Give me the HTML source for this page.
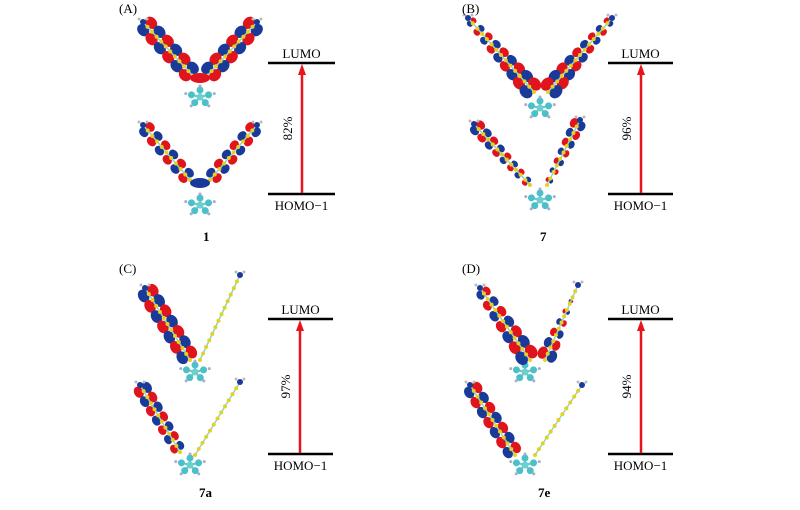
<!DOCTYPE html>
<html><head><meta charset="utf-8"><style>
html,body{margin:0;padding:0;background:#fff;}
svg{display:block;}
text{font-family:"Liberation Serif","Times New Roman",serif;fill:#000;}
</style></head><body>
<svg id="s" width="800" height="510" viewBox="0 0 800 510" xmlns="http://www.w3.org/2000/svg">
<g id="mol"></g>
<g font-size="13">
<text x="119" y="13">(A)</text>
<text x="462" y="13">(B)</text>
<text x="119" y="273">(C)</text>
<text x="462" y="273">(D)</text>
<text x="203" y="241" font-weight="bold">1</text>
<text x="540" y="241" font-weight="bold">7</text>
<text x="199" y="497" font-weight="bold">7a</text>
<text x="538" y="497" font-weight="bold">7e</text>
</g>
<g id="lev"></g>
</svg>
<script>
var NS="http://www.w3.org/2000/svg";
function el(p,t,a){var e=document.createElementNS(NS,t);for(var k in a)e.setAttribute(k,a[k]);p.appendChild(e);return e;}
var M=document.getElementById('mol'),L=document.getElementById('lev');
function level(x1,x2,yl,yh,ax,pct){
 el(L,'line',{x1:x1,x2:x2,y1:yl,y2:yl,stroke:'#000','stroke-width':2.5});
 el(L,'line',{x1:x1,x2:x2,y1:yh,y2:yh,stroke:'#000','stroke-width':2.5});
 el(L,'line',{x1:ax,x2:ax,y1:yh-1,y2:yl+9,stroke:'#e8141c','stroke-width':2.5});
 el(L,'polygon',{points:(ax-4)+','+(yl+12)+' '+ax+','+(yl+1)+' '+(ax+4)+','+(yl+12),fill:'#e8141c'});
 var t=el(L,'text',{x:(x1+x2)/2,y:yl-5,'font-size':13,'text-anchor':'middle'});t.textContent='LUMO';
 t=el(L,'text',{x:(x1+x2)/2,y:yh+16,'font-size':13,'text-anchor':'middle'});t.textContent='HOMO\u22121';
 var cy=(yl+yh)/2;
 t=el(L,'text',{x:ax-10,y:cy,'font-size':13,'text-anchor':'middle',transform:'rotate(-90 '+(ax-10)+' '+cy+')'});t.textContent=pct;
}
level(268,335,63,194,302,'82%');
level(608,673,63,194,641,'96%');
level(268,333,319,454,300,'97%');
level(608,673,319,454,641,'94%');
function arm(x1,y1,x2,y2,n,s,ph){
 var dx=x2-x1,dy=y2-y1,len=Math.hypot(dx,dy),ux=dx/len,uy=dy/len,px=-uy,py=ux,ang=Math.atan2(dy,dx)*180/Math.PI;
 for(var i=0;i<n;i++){
  var t=(i+0.5)/n,x=x1+dx*t,y=y1+dy*t,sz=(typeof s=='function')?s(t):s;
  if(sz>0.5){
   var c1=(i+ph)%2?'#e0141c':'#1a3a9a',c2=(i+ph)%2?'#1a3a9a':'#e0141c';
   el(M,'ellipse',{cx:x+px*sz*0.6,cy:y+py*sz*0.6,rx:sz*0.75,ry:sz*0.6,fill:c1,transform:'rotate('+ang+' '+(x+px*sz*0.6)+' '+(y+py*sz*0.6)+')'});
   el(M,'ellipse',{cx:x-px*sz*0.6,cy:y-py*sz*0.6,rx:sz*0.75,ry:sz*0.6,fill:c2,transform:'rotate('+ang+' '+(x-px*sz*0.6)+' '+(y-py*sz*0.6)+')'});
  }
 }
 el(M,'line',{x1:x1,y1:y1,x2:x2,y2:y2,stroke:'#7fd8d8','stroke-width':1.5});
 var m=Math.round(len/7);
 for(var j=0;j<=m;j++){var q=j/m;el(M,'circle',{cx:x1+dx*q,cy:y1+dy*q,r:2,fill:'#e8d020'});}
 el(M,'circle',{cx:x1,cy:y1,r:3,fill:'#1a3a9a'});
 el(M,'circle',{cx:x1-4,cy:y1-3,r:1.5,fill:'#bbb'});el(M,'circle',{cx:x1+4,cy:y1-3,r:1.5,fill:'#bbb'});
}
function ring(x,y){
 for(var k=0;k<5;k++){var a=k*1.2566-1.57;
  el(M,'line',{x1:x,y1:y,x2:x+Math.cos(a)*9,y2:y+Math.sin(a)*7,stroke:'#5cc8c8','stroke-width':2});
  el(M,'circle',{cx:x+Math.cos(a)*9,cy:y+Math.sin(a)*7,r:3.5,fill:'#4cc0c8'});
  el(M,'circle',{cx:x+Math.cos(a)*15,cy:y+Math.sin(a)*11,r:1.5,fill:'#aac'});}
 el(M,'circle',{cx:x,cy:y,r:3.5,fill:'#6cd0d0'});
}
// A
ring(200,97);
arm(143,22,193,76,6,9,0);arm(257,22,207,76,6,9,1);
el(M,'ellipse',{cx:200,cy:78,rx:10,ry:5,fill:'#e0141c'});
ring(200,205);
arm(143,125,190,180,6,7,0);arm(257,125,210,180,6,7,1);
el(M,'ellipse',{cx:200,cy:183,rx:10,ry:5,fill:'#1a3a9a'});
// B
ring(540,108);
arm(468,18,534,92,9,function(t){return 4+t*6;},0);
arm(612,18,548,92,9,function(t){return 4+t*6;},1);
ring(540,200);
arm(474,124,530,185,8,function(t){return 7-t*3;},0);
arm(580,120,547,185,7,function(t){return 7-t*4;},1);
// C
ring(195,372);
arm(145,288,190,360,7,9,0);arm(240,275,200,360,9,0,0);
ring(190,465);
arm(140,385,180,452,7,function(t){return 8-t*2;},1);arm(240,382,195,455,10,0,0);
// D
ring(525,372);
arm(480,288,530,360,7,function(t){return 6+t*4;},0);
arm(578,285,545,360,7,function(t){return t*9;},1);
ring(525,465);
arm(470,385,515,455,7,8,0);arm(582,385,535,455,10,0,0);
</script>
</body></html>
